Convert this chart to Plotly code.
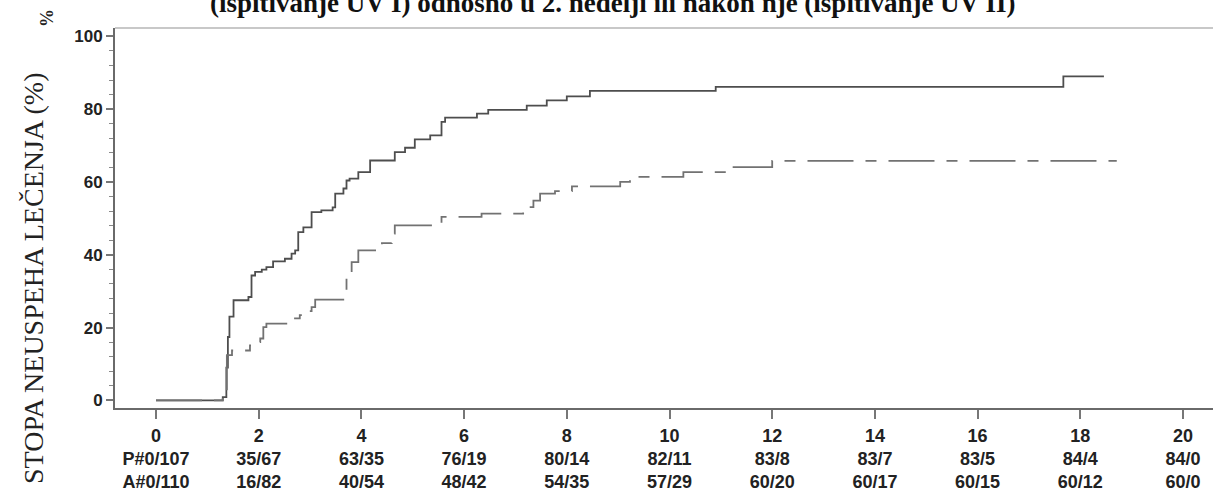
import plotly.graph_objects as go

# ---- data ----
p_time = [0, 1.30, 1.37, 1.40, 1.43, 1.51, 1.80, 1.86, 1.93, 2.06, 2.15, 2.28, 2.51, 2.64,
          2.71, 2.77, 2.87, 3.03, 3.22, 3.44, 3.49, 3.65, 3.71, 3.77, 3.94, 4.17, 4.65,
          4.85, 5.04, 5.34, 5.56, 5.63, 6.25, 6.47, 7.22, 7.61, 8.00, 8.45, 10.90, 17.67, 18.46]
p_rate = [0, 0.9, 9.0, 17.4, 23.0, 27.5, 28.4, 34.3, 35.3, 35.9, 36.6, 38.2, 38.9, 40.3,
          41.2, 46.2, 47.5, 51.7, 52.2, 53.0, 56.8, 58.2, 60.4, 60.9, 62.7, 65.9, 68.2,
          69.4, 71.7, 72.8, 76.5, 77.7, 78.8, 79.8, 81.0, 82.4, 83.5, 85.0, 86.1, 89.0, 89.0]

a_time = [0, 1.30, 1.38, 1.48, 1.83, 1.92, 2.03, 2.09, 2.15, 2.67, 2.80, 2.95, 3.03, 3.10,
          3.71, 3.76, 3.81, 3.94, 4.40, 4.59, 4.65, 5.56, 6.34, 7.15, 7.25, 7.35, 7.48,
          7.77, 8.10, 9.04, 9.23, 10.27, 11.10, 12.00, 18.71]
a_rate = [0, 0.9, 12.4, 13.7, 15.1, 16.0, 17.0, 20.1, 21.1, 22.5, 23.4, 24.5, 25.6, 27.7,
          33.5, 35.5, 38.0, 41.2, 43.2, 45.8, 48.1, 50.4, 51.3, 52.2, 53.1, 54.9, 56.8,
          57.5, 58.8, 60.0, 61.4, 62.7, 64.1, 65.8, 65.8]

tick_weeks = [0, 2, 4, 6, 8, 10, 12, 14, 16, 18, 20]
p_counts = ["P#0/107", "35/67", "63/35", "76/19", "80/14", "82/11", "83/8", "83/7", "83/5", "84/4", "84/0"]
a_counts = ["A#0/110", "16/82", "40/54", "48/42", "54/35", "57/29", "60/20", "60/17", "60/15", "60/12", "60/0"]

title_text = "(ispitivanje UV I) odnosno u 2. nedelji ili nakon nje (ispitivanje UV II)"
y_title = "STOPA NEUSPEHA LEČENJA (%)"

tick_text = [f"{w}<br>{p}<br>{a}" for w, p, a in zip(tick_weeks, p_counts, a_counts)]

W, H = 1213, 491
ML, MR, MT, MB = 115, 0, 28, 83
PW, PH = W - ML - MR, H - MT - MB

fig = go.Figure()
fig.add_trace(go.Scatter(x=p_time, y=p_rate, mode="lines", line=dict(shape="hv", color="#4e4e4e", width=1.8),
                         name="P", showlegend=False))
fig.add_trace(go.Scatter(x=a_time, y=a_rate, mode="lines",
                         line=dict(shape="hv", color="#727272", width=1.8, dash="46px,12px,11px,12px"),
                         name="A", showlegend=False))

tickfont = dict(family="Liberation Sans, Arial, sans-serif", size=18, color="#222222", weight="bold")

fig.update_layout(
    width=W, height=H,
    margin=dict(l=ML, r=MR, t=MT, b=MB, pad=0, autoexpand=False),
    paper_bgcolor="white", plot_bgcolor="white",
    xaxis=dict(range=[(0 - (156 - ML)) / 51.35, (W - 156) / 51.35], tickvals=tick_weeks, ticktext=tick_text,
               showgrid=False, zeroline=False, showline=True, linecolor="#6a6a6a", linewidth=2,
               ticks="outside", ticklen=9, tickwidth=1.5, tickcolor="#777777", automargin=False,
               ticklabelstandoff=1, tickfont=tickfont),
    yaxis=dict(range=[-2.1, 102.3], tickvals=[0, 20, 40, 60, 80, 100], automargin=False,
               showgrid=False, zeroline=False, showline=True, linecolor="#6a6a6a", linewidth=2,
               ticks="outside", ticklen=7, tickwidth=1.5, tickcolor="#777777",
               minor=dict(dtick=4, ticks="outside", ticklen=4, tickwidth=1, tickcolor="#888888"),
               tickfont=dict(family="Liberation Sans, Arial, sans-serif", size=17, color="#222222", weight="bold")),
)

# light top frame line
fig.add_shape(type="line", xref="paper", yref="paper", x0=0, x1=1, y0=1, y1=1,
              line=dict(color="#c8c8c8", width=2))

def px_x(x):
    return (x - ML) / PW

def px_y(y):
    return (H - MB - y) / PH

fig.add_annotation(text=title_text, xref="paper", yref="paper", x=px_x(612), y=px_y(20),
                   xanchor="center", yanchor="bottom", showarrow=False,
                   font=dict(family="Liberation Serif, Times New Roman, serif", size=27, color="#111111", weight="bold"))
fig.add_annotation(text=y_title, xref="paper", yref="paper", x=px_x(33), y=px_y(278),
                   xanchor="center", yanchor="middle", showarrow=False, textangle=-90,
                   font=dict(family="Liberation Serif, Times New Roman, serif", size=28, color="#222222"))
fig.add_annotation(text="%", xref="paper", yref="paper", x=px_x(47), y=px_y(18),
                   xanchor="center", yanchor="middle", showarrow=False, textangle=-90,
                   font=dict(family="Liberation Serif, Times New Roman, serif", size=18, color="#222222", weight="bold"))

fig.write_html("out.html")
